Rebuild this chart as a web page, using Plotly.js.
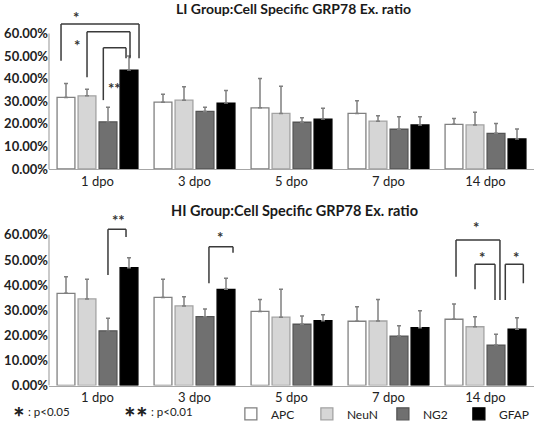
<!DOCTYPE html>
<html>
<head>
<meta charset="utf-8">
<script src="https://cdn.plot.ly/plotly-3.0.1.min.js"></script>
<style>html,body{margin:0;padding:0;background:#fff;}#chart{width:541px;height:421px;}</style>
</head>
<body>
<div id="chart"></div>
<script>
// ---- data ----
const categories = ['1 dpo', '3 dpo', '5 dpo', '7 dpo', '14 dpo'];
const seriesNames = ['APC', 'NeuN', 'NG2', 'GFAP'];
const yTickVals = [0, 0.1, 0.2, 0.3, 0.4, 0.5, 0.6];

// LI group (top panel)
const liAPC = [0.317, 0.296, 0.271, 0.246, 0.198];
const liNeuN = [0.324, 0.305, 0.246, 0.212, 0.195];
const liNG2 = [0.209, 0.255, 0.207, 0.176, 0.158];
const liGFAP = [0.438, 0.292, 0.221, 0.195, 0.133];
const liAPCErr = [0.062, 0.035, 0.130, 0.056, 0.026];
const liNeuNErr = [0.029, 0.059, 0.121, 0.024, 0.056];
const liNG2Err = [0.064, 0.018, 0.020, 0.055, 0.044];
const liGFAPErr = [0.062, 0.056, 0.048, 0.036, 0.044];

// HI group (bottom panel)
const hiAPC = [0.367, 0.351, 0.295, 0.256, 0.264];
const hiNeuN = [0.345, 0.317, 0.272, 0.257, 0.234];
const hiNG2 = [0.218, 0.274, 0.244, 0.197, 0.161];
const hiGFAP = [0.469, 0.383, 0.258, 0.230, 0.224];
const hiAPCErr = [0.066, 0.072, 0.048, 0.058, 0.061];
const hiNeuNErr = [0.078, 0.037, 0.111, 0.086, 0.040];
const hiNG2Err = [0.050, 0.031, 0.033, 0.041, 0.043];
const hiGFAPErr = [0.040, 0.044, 0.024, 0.068, 0.046];

// ---- styles ----
const FONT = 'Lato, "Open Sans", sans-serif';
const fills = ['#ffffff', '#d6d6d6', '#707070', '#000000'];
const edges = ['#808080', '#a3a3a3', '#555555', '#000000'];
const errColor = '#7f7f7f';
const bracketColor = '#3a3a3a';

function makeTraces(vals, errs, xa, ya, showLegend) {
  return vals.map((v, i) => ({
    type: 'bar',
    name: seriesNames[i],
    x: categories,
    y: v,
    xaxis: xa,
    yaxis: ya,
    showlegend: showLegend,
    marker: { color: fills[i], line: { color: edges[i], width: 1.3 } },
    error_y: {
      type: 'data', symmetric: false,
      array: errs[i], arrayminus: errs[i].map(() => 0),
      color: errColor, thickness: 1.5, width: 2
    },
    hoverinfo: 'skip'
  }));
}

const traces = [
  ...makeTraces([liAPC, liNeuN, liNG2, liGFAP], [liAPCErr, liNeuNErr, liNG2Err, liGFAPErr], 'x', 'y', true),
  ...makeTraces([hiAPC, hiNeuN, hiNG2, hiGFAP], [hiAPCErr, hiNeuNErr, hiNG2Err, hiGFAPErr], 'x2', 'y2', false)
];

// significance brackets: [xref, yref, xLeft, xRight, top, leftBottom, rightBottom, label, labelX, labelY]
const brackets = [
  ['x', 'y', -0.376, 0.428, 0.642, 0.479, 0.491, '*', -0.22, 0.673],
  ['x', 'y', -0.108, 0.335, 0.608, 0.406, 0.491, '*', -0.21, 0.549],
  ['x', 'y', 0.06, 0.294, 0.537, 0.305, 0.491, '**', 0.18, 0.358],
  ['x2', 'y2', 0.108, 0.294, 0.622, 0.440, 0.592, '**', 0.22, 0.659],
  ['x2', 'y2', 1.149, 1.397, 0.553, 0.407, 0.529, '*', 1.263, 0.592],
  ['x2', 'y2', 3.696, 4.149, 0.580, 0.433, 0.341, '*', 3.902, 0.633],
  ['x2', 'y2', 3.892, 4.098, 0.483, 0.383, 0.341, '*', 3.96, 0.512],
  ['x2', 'y2', 4.204, 4.390, 0.483, 0.341, 0.407, '*', 4.31, 0.512]
];

const shapes = [];
const annotations = [];
brackets.forEach(b => {
  const [xr, yr, xl, xrr, top, lb, rb, lab, lx, ly] = b;
  const ln = { color: bracketColor, width: 1.5 };
  shapes.push({ type: 'line', xref: xr, yref: yr, x0: xl, x1: xl, y0: lb, y1: top, line: ln });
  shapes.push({ type: 'line', xref: xr, yref: yr, x0: xl, x1: xrr, y0: top, y1: top, line: ln });
  shapes.push({ type: 'line', xref: xr, yref: yr, x0: xrr, x1: xrr, y0: top, y1: rb, line: ln });
  annotations.push({ xref: xr, yref: yr, x: lx, y: ly, text: lab, showarrow: false,
    font: { family: FONT, size: 15, color: '#333', weight: 'bold' } });
});

// y axis lines drawn only from 0 to 60%
shapes.push({ type: 'line', xref: 'x domain', yref: 'y', x0: 0, x1: 0, y0: 0, y1: 0.6, line: { color: '#a6a6a6', width: 1.2 } });
shapes.push({ type: 'line', xref: 'x2 domain', yref: 'y2', x0: 0, x1: 0, y0: 0, y1: 0.6, line: { color: '#a6a6a6', width: 1.2 } });

// titles
annotations.push({ xref: 'paper', yref: 'paper', x: 0.505, y: 0.979, xanchor: 'center', yanchor: 'middle',
  text: 'LI Group:Cell Specific GRP78 Ex. ratio',
  showarrow: false, font: { family: FONT, size: 14, color: '#1a1a1a', weight: 'bold' } });
annotations.push({ xref: 'paper', yref: 'paper', x: 0.506, y: 0.501, xanchor: 'center', yanchor: 'middle',
  text: 'HI Group:Cell Specific GRP78 Ex. ratio',
  showarrow: false, font: { family: FONT, size: 14.5, color: '#1a1a1a', weight: 'bold' } });

// footnotes
annotations.push({ xref: 'paper', yref: 'paper', x: -0.078, y: 0.024, xanchor: 'left', yanchor: 'middle',
  text: '<span style="font-size:14px"><b>\u2217</b></span> : p&lt;0.05', showarrow: false,
  font: { family: FONT, size: 11.5, color: '#222' } });
annotations.push({ xref: 'paper', yref: 'paper', x: 0.150, y: 0.024, xanchor: 'left', yanchor: 'middle',
  text: '<span style="font-size:14px"><b>\u2217\u2217</b></span> : p&lt;0.01', showarrow: false,
  font: { family: FONT, size: 11.5, color: '#222' } });

const xBase = {
  type: 'category', range: [-0.5, 4.5], showline: true, linecolor: '#a6a6a6', linewidth: 1.2,
  ticks: '', showgrid: false, zeroline: false, fixedrange: true,
  tickfont: { family: FONT, size: 13, color: '#222' }
};
const yBase = {
  tickvals: yTickVals, tickformat: '.2%', showline: false, showgrid: false, zeroline: false, ticks: '',
  fixedrange: true, tickfont: { family: FONT, size: 13, color: '#222', weight: 'bold' }
};

const layout = {
  width: 541, height: 421,
  margin: { l: 49, r: 7, t: 0, b: 0, autoexpand: false },
  paper_bgcolor: '#fff', plot_bgcolor: '#fff',
  barmode: 'group', bargap: 0.134, bargroupgap: 0.15,
  font: { family: FONT },
  xaxis: Object.assign({}, xBase, { anchor: 'y', domain: [0, 1] }),
  yaxis: Object.assign({}, yBase, { anchor: 'x', domain: [0.5986, 0.974], range: [0, 0.70] }),
  xaxis2: Object.assign({}, xBase, { anchor: 'y2', domain: [0, 1] }),
  yaxis2: Object.assign({}, yBase, { anchor: 'x2', domain: [0.0843, 0.4898], range: [0, 0.68] }),
  showlegend: true,
  legend: {
    orientation: 'h', x: 0.375, y: 0.017, xanchor: 'left', yanchor: 'middle',
    entrywidth: 31, entrywidthmode: 'pixels', bgcolor: 'rgba(0,0,0,0)',
    font: { family: FONT, size: 12, color: '#222' }, traceorder: 'normal'
  },
  shapes: shapes,
  annotations: annotations
};

Plotly.newPlot('chart', traces, layout, { displayModeBar: false, staticPlot: true });
</script>
</body>
</html>
